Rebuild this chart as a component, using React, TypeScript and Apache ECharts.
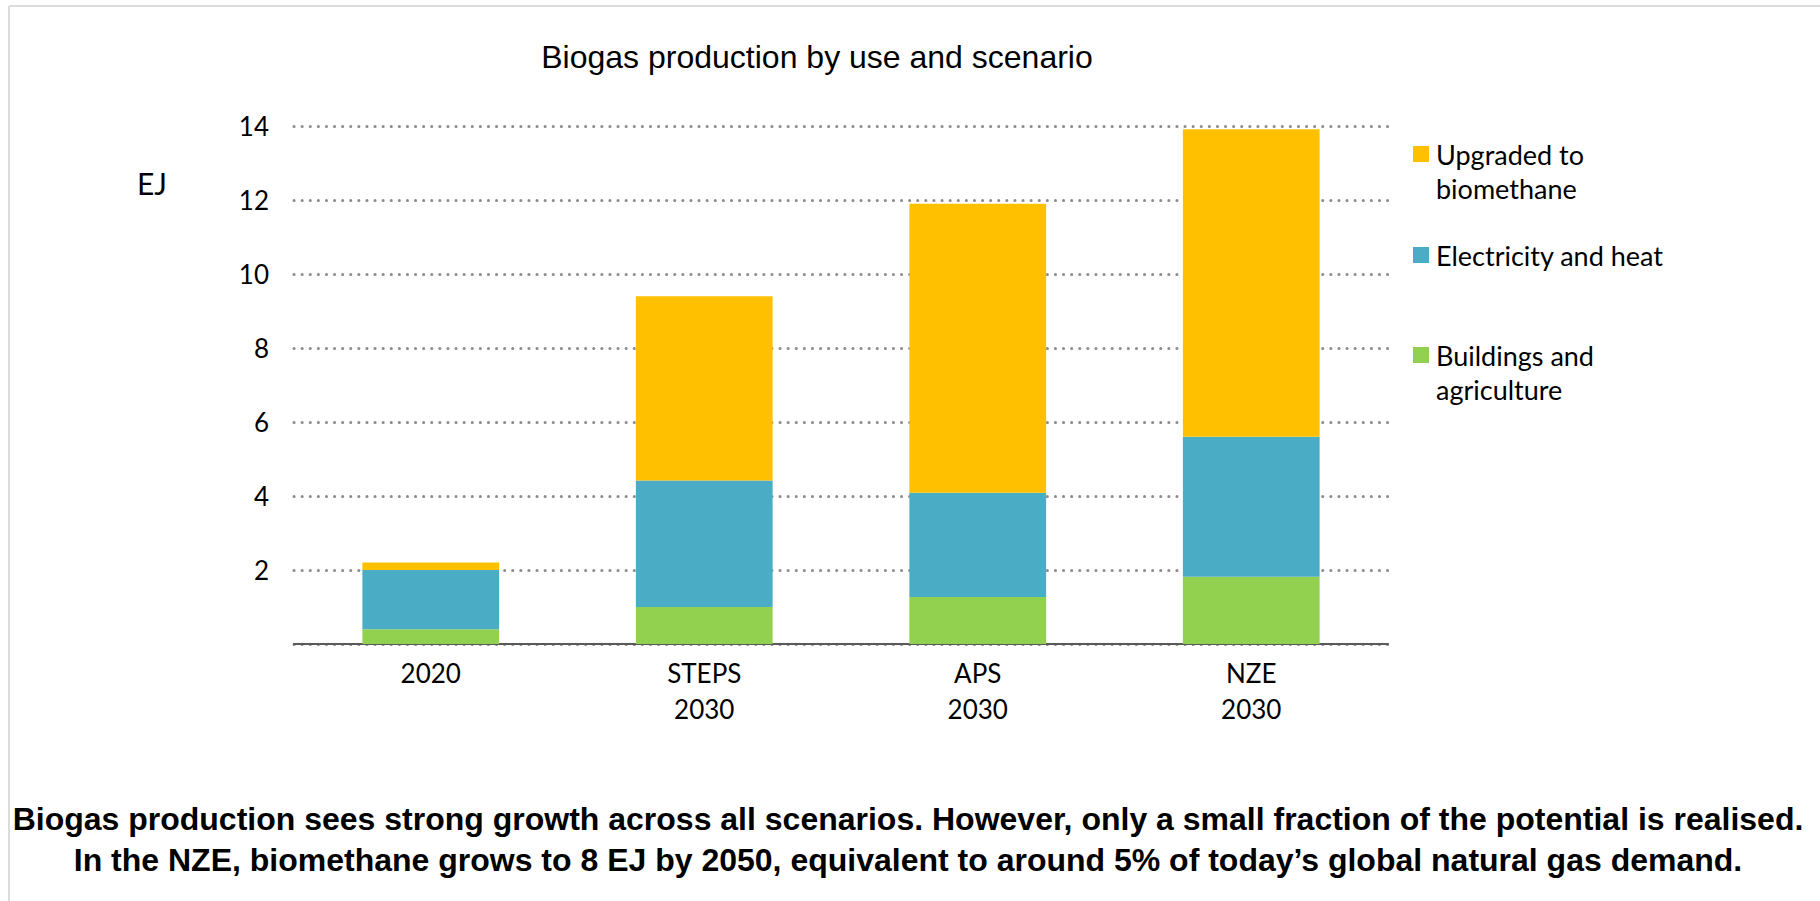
import React, { useEffect, useRef } from "react";
import * as echarts from "echarts";

// ---- Data ----
const categories = ["2020", "STEPS\n2030", "APS\n2030", "NZE\n2030"];
const seriesNames = ["Buildings and agriculture", "Electricity and heat", "Upgraded to biomethane"];
const buildingsAgriculture = [0.4, 1.0, 1.27, 1.82];
const electricityHeat = [1.6, 3.42, 2.82, 3.78];
const upgradedBiomethane = [0.2, 4.98, 7.81, 8.31];
const yMin = 0;
const yMax = 14;
const yInterval = 2;
const unitLabel = "EJ";
const titleText = "Biogas production by use and scenario";
const captionLines = [
  "Biogas production sees strong growth across all scenarios. However, only a small fraction of the potential is realised.",
  "In the NZE, biomethane grows to 8 EJ by 2050, equivalent to around 5% of today\u2019s global natural gas demand.",
];
const legendLabels = ["Upgraded to\nbiomethane", "Electricity and heat", "Buildings and\nagriculture"];

const COLORS = { green: "#92D050", blue: "#4BACC6", yellow: "#FFC000" };
const SANS = "Lato, 'Open Sans', sans-serif";
const ARIAL = "'Liberation Sans', Arial, sans-serif";

export default function App() {
  const ref = useRef<HTMLDivElement>(null);

  useEffect(() => {
    if (!ref.current) return;
    const chart = echarts.init(ref.current, undefined, { renderer: "svg" });

    const legendColors = [COLORS.yellow, COLORS.blue, COLORS.green];
    const legendTops = [146, 247, 347];
    const legendGraphics: any[] = [];
    legendLabels.forEach((lab, i) => {
      legendGraphics.push({
        type: "rect",
        shape: { x: 1413, y: legendTops[i], width: 16, height: 16 },
        style: { fill: legendColors[i] },
      });
      legendGraphics.push({
        type: "text",
        style: {
          text: lab,
          x: 1436,
          y: legendTops[i] + 8 - 17,
          verticalAlign: "top",
          align: "left",
          fontSize: 27,
          lineHeight: 34,
          fontFamily: SANS,
          fill: "#000",
        },
      });
    });

    const option: any = {
      animation: false,
      backgroundColor: "#ffffff",
      title: {
        text: titleText,
        left: 812,
        top: 36,
        textAlign: "center",
        textStyle: { fontFamily: ARIAL, fontWeight: "normal", fontSize: 32, color: "#000" },
      },
      grid: { left: 294, right: 432, top: 126, bottom: 257, containLabel: false },
      xAxis: {
        type: "category",
        data: categories,
        axisLine: { show: true, lineStyle: { color: "#595959", width: 2 } },
        axisTick: { show: false },
        axisLabel: {
          color: "#000",
          fontFamily: SANS,
          fontSize: 26,
          lineHeight: 36,
          margin: 11,
          interval: 0,
        },
      },
      yAxis: {
        type: "value",
        min: yMin,
        max: yMax,
        interval: yInterval,
        axisLine: { show: false },
        axisTick: { show: false },
        axisLabel: {
          color: "#000",
          fontFamily: SANS,
          fontSize: 26,
          margin: 25,
          formatter: (v: number) => (v === 0 ? "" : String(v)),
        },
        splitLine: {
          show: true,
          lineStyle: { color: "#8c8c8c", width: 3, type: [0.1, 8], cap: "round" },
        },
      },
      series: [
        { name: seriesNames[0], type: "bar", stack: "total", barWidth: "50%", data: buildingsAgriculture, itemStyle: { color: COLORS.green } },
        { name: seriesNames[1], type: "bar", stack: "total", barWidth: "50%", data: electricityHeat, itemStyle: { color: COLORS.blue } },
        { name: seriesNames[2], type: "bar", stack: "total", barWidth: "50%", data: upgradedBiomethane, itemStyle: { color: COLORS.yellow } },
      ],
      graphic: [
        { type: "line", shape: { x1: 9, y1: 6, x2: 1820, y2: 6 }, style: { stroke: "#dcdcdc", lineWidth: 2 } },
        { type: "line", shape: { x1: 9, y1: 6, x2: 9, y2: 901 }, style: { stroke: "#dcdcdc", lineWidth: 2 } },
        {
          type: "text",
          style: { text: unitLabel, x: 137, y: 183, verticalAlign: "middle", align: "left", fontSize: 30, fontFamily: SANS, fill: "#000" },
        },
        ...legendGraphics,
        {
          type: "text",
          style: {
            text: captionLines.join("\n"),
            x: 908,
            y: 839,
            align: "center",
            verticalAlign: "middle",
            fontSize: 32,
            lineHeight: 41,
            fontWeight: "bold",
            fontFamily: ARIAL,
            fill: "#000",
          },
        },
      ],
    };

    chart.setOption(option);
    return () => chart.dispose();
  }, []);

  return (
    <div
      ref={ref}
      style={{ position: "fixed", left: 0, top: 0, width: 1820, height: 901, background: "#fff" }}
    />
  );
}
